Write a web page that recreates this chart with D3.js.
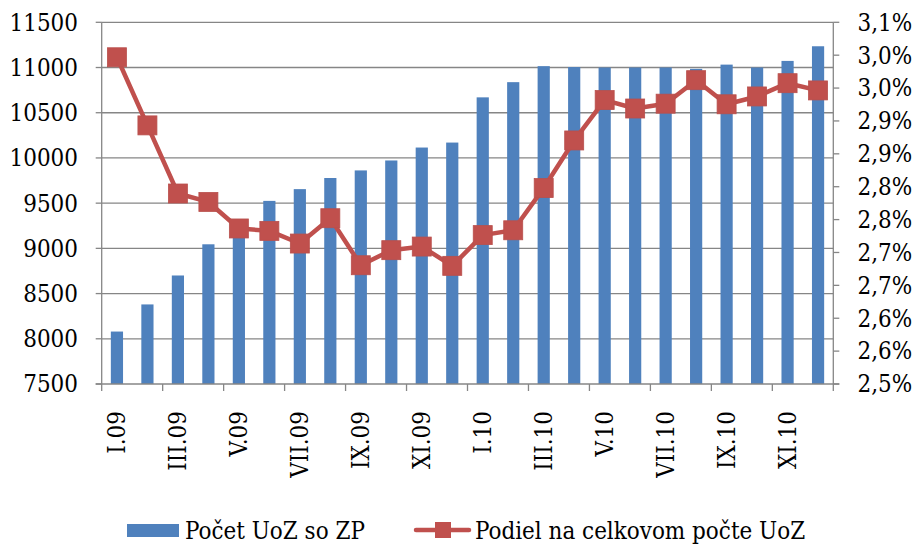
<!DOCTYPE html>
<html>
<head>
<meta charset="utf-8">
<script src="https://cdn.jsdelivr.net/npm/d3@7"></script>
</head>
<body style="margin:0;background:#fff">
<svg id="fig" width="915" height="545" style="display:block"></svg>
<script>
const categories = ["I.09","II.09","III.09","IV.09","V.09","VI.09","VII.09","VIII.09","IX.09","X.09","XI.09","XII.09",
                    "I.10","II.10","III.10","IV.10","V.10","VI.10","VII.10","VIII.10","IX.10","X.10","XI.10","XII.10"];
const counts = [8080, 8380, 8700, 9045, 9280, 9525, 9655, 9778, 9862, 9972, 10115, 10170,
                10670, 10838, 11015, 11005, 11000, 11000, 11000, 10985, 11032, 11000, 11073, 11235];
const shares = [3.042, 2.929, 2.816, 2.802, 2.758, 2.754, 2.733, 2.775, 2.697, 2.722, 2.728, 2.696,
                2.747, 2.755, 2.825, 2.904, 2.971, 2.957, 2.965, 3.004, 2.964, 2.977, 2.999, 2.987];
const leftTicks = [7500, 8000, 8500, 9000, 9500, 10000, 10500, 11000, 11500];
const rightTickLabels = ["2,5%","2,6%","2,6%","2,7%","2,7%","2,8%","2,8%","2,9%","2,9%","3,0%","3,0%","3,1%"];
const seriesNames = ["Počet UoZ so ZP", "Podiel na celkovom počte UoZ"];

const barColor = "#4F81BD", lineColor = "#C0504D", gridColor = "#868686";
const FONT = "'DejaVu Serif Condensed', 'DejaVu Serif', serif";
const svg = d3.select("#fig");
const L = 101.7, R = 833.3, T = 22.3, B = 384;

// size the font so the legend label matches its width in the reference (180px)
const probe = svg.append("text").attr("font-family", FONT).attr("font-size", 27).text(seriesNames[0]);
const pw = probe.node().getComputedTextLength();
probe.remove();
const fs = pw > 0 ? Math.max(20, Math.min(28, 27 * 180 / pw)) : 23;

function styleText(sel) {
  return sel.attr("font-family", FONT).attr("font-size", fs).attr("fill", "#000");
}

const x = d3.scaleBand().domain(categories).range([L, R]).padding(0);
const yL = d3.scaleLinear().domain([7500, 11500]).range([B, T]);
const yR = d3.scaleLinear().domain([2.5, 3.1]).range([B, T]);
const rightTickVals = rightTickLabels.map((_, i) => 2.5 + i * 0.6 / (rightTickLabels.length - 1));

// gridlines
svg.append("g").selectAll("line").data(leftTicks.slice(1)).join("line")
  .attr("x1", L).attr("x2", R)
  .attr("y1", d => yL(d)).attr("y2", d => yL(d))
  .attr("stroke", gridColor).attr("stroke-width", 1.3);

// bars
const bw = x.bandwidth() * 0.4;
svg.append("g").selectAll("rect").data(counts).join("rect")
  .attr("x", (d, i) => x(categories[i]) + x.bandwidth() / 2 - bw / 2)
  .attr("width", bw)
  .attr("y", d => yL(d))
  .attr("height", d => B - yL(d))
  .attr("fill", barColor);

// left axis
const gl = svg.append("g");
gl.append("line").attr("x1", L).attr("x2", L).attr("y1", T).attr("y2", B).attr("stroke", gridColor).attr("stroke-width", 1.3);
gl.selectAll(".t").data(leftTicks).join("line").attr("class", "t")
  .attr("x1", L - 6).attr("x2", L).attr("y1", d => yL(d)).attr("y2", d => yL(d))
  .attr("stroke", gridColor).attr("stroke-width", 1.3);
styleText(gl.selectAll("text").data(leftTicks).join("text")
  .attr("x", 78).attr("y", d => yL(d)).attr("dy", "0.35em")
  .attr("text-anchor", "end")).text(d => d);

// right axis
const gr = svg.append("g");
gr.append("line").attr("x1", R).attr("x2", R).attr("y1", T).attr("y2", B).attr("stroke", gridColor).attr("stroke-width", 1.3);
gr.selectAll(".t").data(rightTickVals).join("line").attr("class", "t")
  .attr("x1", R).attr("x2", R + 6).attr("y1", d => yR(d)).attr("y2", d => yR(d))
  .attr("stroke", gridColor).attr("stroke-width", 1.3);
styleText(gr.selectAll("text").data(rightTickVals).join("text")
  .attr("x", 857.5).attr("y", d => yR(d)).attr("dy", "0.35em")
  .attr("text-anchor", "start")).text((d, i) => rightTickLabels[i]);

// bottom axis
const gb = svg.append("g");
gb.append("line").attr("x1", L - 6).attr("x2", R + 6).attr("y1", B).attr("y2", B).attr("stroke", gridColor).attr("stroke-width", 1.3);
const tickCats = categories.filter((d, i) => i % 2 === 0);
gb.selectAll(".t").data(tickCats.concat([null])).join("line").attr("class", "t")
  .attr("x1", d => d === null ? R : x(d)).attr("x2", d => d === null ? R : x(d))
  .attr("y1", B).attr("y2", B + 7)
  .attr("stroke", gridColor).attr("stroke-width", 1.3);
styleText(gb.selectAll("text").data(tickCats).join("text")
  .attr("transform", d => `translate(${x(d) + x.bandwidth() / 2},${411})rotate(-90)`)
  .attr("dy", "0.35em").attr("text-anchor", "end")).text(d => d);

// line + markers
const line = d3.line().x((d, i) => x(categories[i]) + x.bandwidth() / 2).y(d => yR(d));
svg.append("path").datum(shares).attr("d", line)
  .attr("fill", "none").attr("stroke", lineColor).attr("stroke-width", 4.5).attr("stroke-linejoin", "round");
const ms = 19;
svg.append("g").selectAll("rect").data(shares).join("rect")
  .attr("x", (d, i) => x(categories[i]) + x.bandwidth() / 2 - ms / 2)
  .attr("y", d => yR(d) - ms / 2)
  .attr("width", ms).attr("height", ms)
  .attr("fill", lineColor).attr("stroke", "#B9504D").attr("stroke-width", 0.8);

// legend
const lg = svg.append("g");
lg.append("rect").attr("x", 127).attr("y", 524).attr("width", 52).attr("height", 13).attr("fill", barColor);
styleText(lg.append("text").attr("x", 185).attr("y", 530.5).attr("dy", "0.35em")).text(seriesNames[0]);
lg.append("line").attr("x1", 416).attr("x2", 469).attr("y1", 530).attr("y2", 530)
  .attr("stroke", lineColor).attr("stroke-width", 4.5).attr("stroke-linecap", "round");
lg.append("rect").attr("x", 435).attr("y", 522).attr("width", 16).attr("height", 16).attr("fill", lineColor);
styleText(lg.append("text").attr("x", 475).attr("y", 530.5).attr("dy", "0.35em")).text(seriesNames[1]);
</script>
</body>
</html>
